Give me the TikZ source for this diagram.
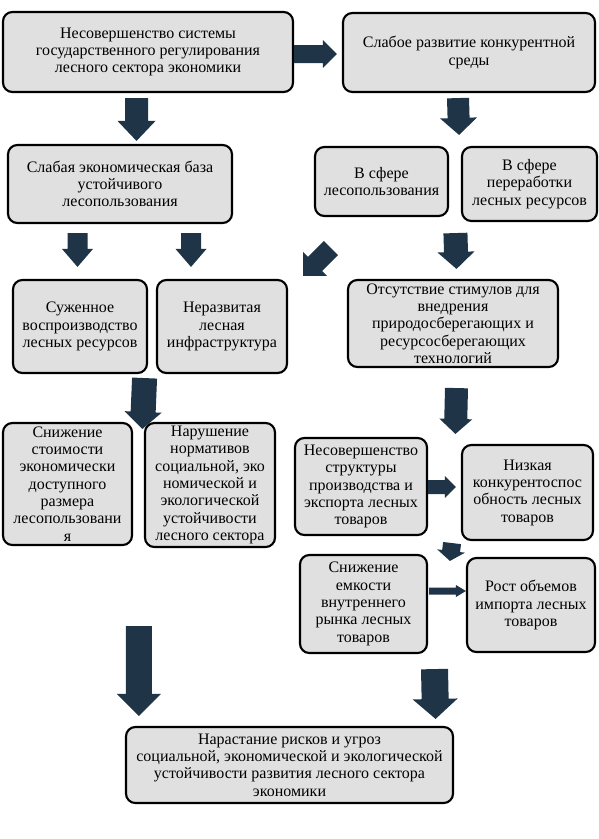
\documentclass[tikz,border=0pt]{standalone}
\usepackage{fontspec}
\setmainfont{Liberation Serif}
\usetikzlibrary{calc}

\begin{document}
\begin{tikzpicture}[x=0.75pt, y=-0.75pt]
  \colorlet{boxfill}{black!12}
  \definecolor{arrcol}{HTML}{1F3447}

  \tikzset{
    cause/.style 2 args={
      rectangle, rounded corners=7pt,
      minimum width=#1*0.75pt, minimum height=#2*0.75pt,
      inner sep=1.5pt, align=center,
      font=\fontsize{12}{13}\selectfont,
      draw=black, line width=1.6pt, fill=boxfill
    },
    % block arrow: shaft width, head width, head length
    blockarr/.style n args={3}{
      fill=arrcol,
      to path={
        ($(\tikztotarget)!#3!(\tikztostart)$) coordinate (ah)
        ($(\tikztostart)!0.5*#1!90:(\tikztotarget)$)
        -- ($(ah)!0.5*#1!90:(\tikztotarget)$)
        -- ($(ah)!0.5*#2!90:(\tikztotarget)$)
        -- (\tikztotarget)
        -- ($(ah)!0.5*#2!-90:(\tikztotarget)$)
        -- ($(ah)!0.5*#1!-90:(\tikztotarget)$)
        -- ($(\tikztostart)!0.5*#1!-90:(\tikztotarget)$)
        -- cycle
      }
    }
  }

  \useasboundingbox (0,0) rectangle (599,839);

  \node[cause={290}{80}] (ineff) at (148,52)
    {Несовершенство системы\\государственного регулирования\\лесного сектора экономики};
  \node[cause={252}{79}] (weakcomp) at (469,52.5)
    {Слабое развитие конкурентной\\среды};
  \node[cause={224}{78}] (weakbase) at (120,184)
    {Слабая экономическая база\\устойчивого\\лесопользования};
  \node[cause={133}{69}] (usesphere) at (381.5,181.5)
    {В сфере\\лесопользования};
  \node[cause={135}{74}] (procsphere) at (529.5,184)
    {В сфере\\переработки\\лесных ресурсов};
  \node[cause={134}{93}] (narrowrepro) at (80,326.5)
    {Суженное\\воспроизводство\\лесных ресурсов};
  \node[cause={130}{93}] (infra) at (222,326.5)
    {Неразвитая\\лесная\\инфраструктура};
  \node[cause={210}{87}] (nostimuli) at (453,323.5)
    {Отсутствие стимулов для\\внедрения\\природосберегающих и\\ресурсосберегающих\\технологий};
  \node[cause={129}{122}] (costdrop) at (67.5,484)
    {Снижение\\стоимости\\экономически\\доступного\\размера\\лесопользовани\\я};
  \node[cause={130}{124}] (normbreach) at (210,485)
    {Нарушение\\нормативов\\социальной, эко\\номической и\\экологической\\устойчивости\\лесного сектора};
  \node[cause={132}{97}] (structineff) at (361,486.5)
    {Несовершенство\\структуры\\производства и\\экспорта лесных\\товаров};
  \node[cause={131}{95}] (lowcomp) at (527.5,492.5)
    {Низкая\\конкурентоспос\\обность лесных\\товаров};
  \node[cause={127}{98}] (demanddrop) at (363.5,604)
    {Снижение\\емкости\\внутреннего\\рынка лесных\\товаров};
  \node[cause={128}{94}] (importgrow) at (531,605)
    {Рост объемов\\импорта лесных\\товаров};
  \node[cause={327}{76}] (risks) at (289.5,765)
    {Нарастание рисков и угроз\\социальной, экономической и экологической\\устойчивости развития лесного сектора\\экономики};

  \fill[blockarr={13.5pt}{21pt}{10.5pt}] ($(ineff.east)+(0,2)$) to ($(weakcomp.west)+(-5,1.5)$);
  \fill[blockarr={17.25pt}{28.5pt}{15pt}] ($(ineff.south)+(-11.5,5)$) to ($(weakbase.north)+(16.5,-3)$);
  \fill[blockarr={16.5pt}{27.75pt}{12.75pt}] ($(weakcomp.south)+(-11,5)$) to ($(usesphere.north east)+(10,-11)$);
  \fill[blockarr={15pt}{23.25pt}{13.5pt}] ($(weakbase.south)+(-42.5,9)$) to ($(narrowrepro.north)+(-2.5,-12)$);
  \fill[blockarr={15pt}{23.25pt}{13.5pt}] ($(weakbase.south)+(71,9)$) to ($(infra.north)+(-31,-12)$);
  \fill[blockarr={15pt}{25.5pt}{12.75pt}] ($(usesphere.south west)+(17,31)$) to ($(infra.north east)+(15,-3)$);
  \fill[blockarr={18pt}{27.75pt}{12.75pt}] ($(procsphere.south west)+(-5.5,11)$) to ($(nostimuli.north)+(3.5,-10)$);
  \fill[blockarr={18.75pt}{27.75pt}{12.75pt}] ($(narrowrepro.south east)+(-3.5,4)$) to ($(normbreach.north west)+(-1.5,7)$);
  \fill[blockarr={17.25pt}{24.75pt}{11.25pt}] ($(nostimuli.south)+(3.5,20)$) to ($(lowcomp.north west)+(-5.5,-10)$);
  \fill[blockarr={10.5pt}{16.5pt}{8.25pt}] ($(structineff.east)+(0,0.5)$) to ($(lowcomp.west)+(-5,-5.5)$);
  \fill[blockarr={13.5pt}{21pt}{7.5pt}] ($(structineff.south east)+(24,7)$) to ($(importgrow.north west)+(-16,4)$);
  \fill[blockarr={5.25pt}{9pt}{7.5pt}] ($(demanddrop.east)+(1,-13)$) to ($(importgrow.west)+(0,-14)$);
  \fill[blockarr={19.5pt}{33pt}{16.5pt}] ($(normbreach.south west)+(-5,78)$) to ($(risks.north west)+(14,-10)$);
  \fill[blockarr={20.25pt}{33.75pt}{15pt}] ($(demanddrop.south)+(71,15)$) to ($(risks.north east)+(-18.5,-7)$);
\end{tikzpicture}
\end{document}
